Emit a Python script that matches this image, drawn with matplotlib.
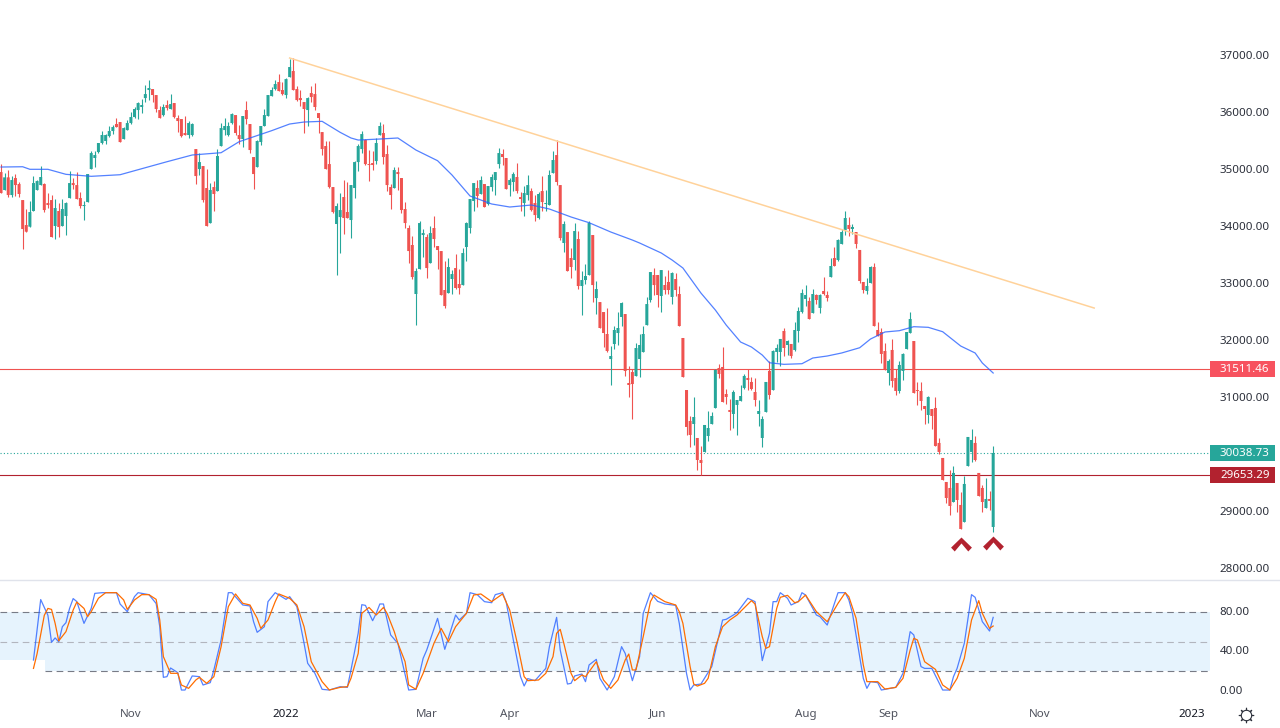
import matplotlib
matplotlib.use("Agg")
import matplotlib.pyplot as plt
from matplotlib.lines import Line2D
from matplotlib.patches import Rectangle
from matplotlib.path import Path

opens = [34966,34651,34873,34563,34861,34756,34475,34037,34008,34283,34651,34738,34756,34423,34475,34020,34283,34020,34195,34510,
34773,34738,34510,34370,34440,35019,35212,35317,35475,35510,35597,35685,35808,35843,35545,35702,35825,35930,36053,36106,
36263,36404,36421,36316,36053,35965,36141,36071,36176,35913,35895,35650,35615,35615,35369,35019,35071,34686,34072,34703,
34633,35422,35702,35615,35825,35965,35615,35545,36053,35808,35229,35054,35492,35773,35948,36298,36421,36544,36404,36316,
36631,36737,36421,36263,36193,36053,36351,36333,36000,35667,35422,35106,34703,34055,
34177,34528,34265,34125,34686,35141,35369,35527,35106,35124,35159,35615,35650,35282,34703,34686,34966,34861,34318,33985,
33687,32828,33266,33862,33827,33371,33985,33669,33581,32898,32845,33091,33283,33003,32985,33652,33985,34458,34686,34581,
34756,34405,34703,34826,35106,35282,35212,34738,34791,34879,34528,34423,34563,34633,34423,34160,34633,34405,34388,34949,
35264,34738,33722,33914,33459,33424,33792,32968,33073,33161,33862,32757,32687,32512,32127,31688,31951,32144,32425,32477,
31268,31460,31390,31688,31811,32284,32722,33161,33161,32793,
32986,33039,32776,33091,32828,32057,31145,30602,30549,30304,29918,30059,30339,30549,30830,31531,31549,31075,30795,30725,
30883,30953,31181,31356,31286,31110,30725,30304,30760,31479,31145,31812,31812,32180,31934,31952,31847,32180,32513,32741,
32706,32495,32811,32583,32881,32811,33126,33459,33424,33705,33950,34038,33968,33915,33600,33039,32881,33021,33302,32197,
32162,31829,31443,31847,31356,31128,31479,31864,32145,32004,31145,31128,30865,30707,30812,30830,30217,29954,29533,29428,
29182,29515,29130,28832,29813,30059,30217,29691,29428,29077,29235,28744]

highs = [35106,34943,35001,34896,34931,34791,34475,34318,34452,34896,34826,35071,34768,34592,34563,34493,34423,34493,34440,34984,
34861,34966,34616,34458,34931,35334,35334,35475,35685,35632,35773,35790,35913,35843,35755,35878,36018,36106,36193,36246,
36491,36579,36421,36316,36123,36158,36228,36333,36176,35965,35895,35948,35860,35825,35369,35299,35071,35019,34773,34808,
35369,35825,35913,35843,36000,35965,35790,35948,36211,35808,35229,35527,35773,36071,36316,36456,36579,36684,36544,36614,
36947,36964,36474,36404,36193,36281,36474,36526,36000,35667,35510,35510,34703,34423,
34592,34826,34791,34738,35159,35457,35685,35545,35352,35334,35562,35843,35808,35440,34756,35054,35054,34861,34440,34037,
33844,33283,34107,33967,33879,34020,34195,33669,33581,33406,33459,33248,33529,33266,33634,34090,34493,34773,34826,34896,
34756,34721,34931,34966,35387,35369,35212,34861,34966,35124,34616,34721,34914,34686,34563,34616,34896,34651,35001,35334,
35527,34738,34107,33914,33634,34072,33932,33231,33354,34107,33862,33056,32687,32512,32582,31916,32267,32512,32687,32477,
31566,31513,31969,32127,32267,32775,33213,33283,33161,33248,
33144,33249,33214,33196,32969,32057,31145,30690,31023,30304,30164,30532,30777,30760,31514,31601,31899,31163,30988,31145,
30970,31233,31426,31514,31373,31356,30970,30690,31286,31654,31847,31952,32040,32232,32022,31952,32337,32600,32916,32986,
32776,32916,32828,32828,33126,32881,33459,33652,33792,33968,34283,34178,34055,33915,33600,33039,33109,33319,33372,32337,
32232,31969,31689,32040,31514,31654,31794,32162,32513,32004,31286,31286,30865,31040,30812,31023,30304,29954,29533,29743,
29813,29515,29358,29638,30322,30462,30339,29691,29480,29603,29375,30164]

lows = [34598,34651,34534,34534,34545,34534,33616,33920,34008,34283,34651,34738,34265,34329,33827,33792,33827,34020,33862,34510,
34668,34493,34335,34125,34440,35019,35054,35299,35457,35457,35580,35632,35755,35492,35545,35702,35808,35913,35895,36000,
36193,36228,36193,36018,35913,35948,36053,36071,35913,35667,35580,35615,35562,35597,34756,34914,34440,34020,34072,34283,
34633,35422,35615,35597,35808,35615,35457,35404,35808,35299,34668,35054,35440,35773,35948,36298,36404,36386,36316,36263,
36631,36404,36211,36123,35650,35773,36193,36053,35650,35264,35019,34686,34248,33161,
33546,33879,34160,33809,34510,34984,35299,35089,34808,35001,35106,35615,35106,34633,34318,34686,34651,34248,33985,33371,
33091,32284,33266,33476,33108,33371,33652,33266,32810,32582,32845,32828,32915,32828,32985,33406,33897,34283,34353,34581,
34353,34388,34633,34563,35036,35089,34668,34546,34633,34598,34283,34195,34475,34283,34107,34142,34283,34283,34388,34949,
34738,33774,33564,33231,33108,33248,32915,32460,33003,33161,32687,32477,32232,31899,31811,31233,31864,31934,32267,31390,
31022,30637,31390,31373,31811,32284,32687,32810,32600,32512,
32828,32828,32653,32793,32267,31373,30357,30146,30181,29743,29655,30059,30252,30549,30830,31356,30935,30900,30444,30479,
30357,30953,31163,31145,31145,30865,30514,30146,30760,30988,31145,31636,31566,31741,31759,31706,31829,31987,32495,32618,
32390,32495,32653,32495,32811,32706,33126,33319,33407,33705,33863,33845,33880,33635,33021,32846,32828,33021,32267,32092,
31619,31496,31233,31198,31058,31093,31321,31864,32145,31093,30883,30795,30549,30567,30462,30164,30024,29568,29165,28954,
29182,29007,28709,28832,29813,29883,29901,29287,29007,29077,29042,28656]

closes = [34598,34873,34563,34826,34738,34581,33967,33920,34265,34773,34808,34879,34300,34388,33827,34335,34002,34318,34423,34773,
34738,34493,34370,34388,34931,35299,35264,35475,35615,35615,35685,35755,35755,35492,35737,35825,35930,36071,36176,36141,
36333,36439,36316,36071,35913,36106,36088,36158,35930,35860,35597,35615,35825,35808,34896,35141,34475,34020,34651,34581,
35247,35737,35773,35773,35983,35650,35545,35948,35895,35352,34931,35510,35773,35965,36316,36404,36509,36386,36333,36596,
36807,36404,36228,36228,36071,36263,36281,36106,35913,35369,35019,34703,34265,34370,
34300,34160,34160,34738,35141,35422,35632,35106,35089,35089,35475,35773,35229,34738,34563,35001,34931,34300,34072,33581,
33126,33231,34072,33897,33283,33897,33792,33599,32810,32617,33301,33178,32933,32933,33546,34072,34493,34773,34546,34826,
34353,34721,34879,34966,35299,35229,34668,34826,34931,34633,34493,34598,34738,34300,34212,34581,34440,34423,34914,35177,
34791,33809,34055,33231,33301,33932,32968,33073,33143,34072,32985,32915,32232,32144,31829,31741,32197,32232,32670,31478,
31233,31250,31881,31934,32127,32652,33213,32985,32810,33248,
32898,32898,33196,32898,32267,31373,30497,30357,30672,29918,29866,30532,30479,30690,31496,31426,30935,31023,30760,31110,
30970,31040,31391,31321,31163,30970,30777,30637,31286,31058,31829,31882,32040,31882,32004,31741,32197,32530,32846,32811,
32390,32828,32723,32811,32828,32758,33319,33319,33775,33915,34160,33968,34003,33705,33056,32898,32969,33302,32267,32092,
31777,31496,31654,31303,31128,31584,31777,32162,32390,31093,31128,30953,30812,31023,30690,30164,30059,29568,29252,29112,
29691,29217,28709,29498,30322,30269,29918,29287,29182,29235,29200,30041]

ma_bars = [0,6,8,13,18,25,33,40,46,53,61,66,75,80,84,89,94,97,99,105,110,115,121,125,130,136,141,147,152,158,163,169,175,177,183,186,189,194,198,201,205,208,211,213,217,222,225,229,233,238,241,245,249,253,257,261,266,270,272,275]
ma_values = [35054,35059,35014,35014,34926,34891,34919,35042,35147,35265,35305,35498,35691,35808,35843,35855,35662,35563,35527,35545,35563,35352,35165,34914,34546,34406,34353,34388,34318,34178,34078,33915,33774,33722,33547,33424,33284,32845,32547,32284,31986,31899,31758,31623,31595,31606,31706,31741,31794,31886,32039,32162,32185,32255,32244,32167,31916,31794,31618,31443]

trend_bars = [80, 303]
trend_values = [36965, 32582]

k_bars = [9,11,13,14,15,16,17,18,19,20,21,23,25,26,28,32,33,35,37,38,41,43,44,45,46,47,49,50,51,53,55,56,58,59,61,63,64,67,69,70,71,73,74,76,79,80,82,84,85,87,89,91,
94,96,97,99,100,101,103,104,105,106,108,110,113,115,117,118,121,123,126,127,129,130,132,134,136,137,139,140,142,144,145,146,148,151,152,154,155,157,158,159,161,162,163,165,166,168,170,172,173,175,177,178,180,182,184,187,
188,190,191,192,194,197,200,201,203,204,207,209,211,213,214,215,216,218,219,221,222,223,226,227,229,232,234,235,236,239,240,241,243,244,248,250,252,253,255,256,258,261,263,264,265,267,269,270,272,274,275]
k_values = [31.5,93,77,49.5,54,50,65.4,69.5,84,94,91,68.8,84,99.3,100,100,88.5,80.7,96,100,98,89,65.4,13.9,14.6,23.4,18.7,1,1,15.3,14.6,6.1,8.5,21.4,51.9,100,100,87.5,86.5,70.5,59.7,65.4,90.9,100,93.2,96,85.8,48.5,28.2,18,1.7,1,
4.4,3.7,21.4,58.7,87.8,87.1,71.5,79,88.5,88.5,57,48.5,1,1.7,33.2,41.7,73.9,42.4,77.3,72.2,79,100,98,90.9,89.8,98,100,90.9,51.9,14.6,5.1,12.6,10.5,23,45.1,74.9,41.7,7.1,7.8,15.3,17.3,9.5,26.5,32.2,12.9,1,14.6,45.1,38.3,10.5,34.9,79,100,91.2,88.5,87.1,
68.8,18,1,6.1,7.1,24.8,72.2,72.9,77.3,79.7,94.3,90.9,30.9,58.7,90.9,90.9,100,94.3,87.5,90.9,100,97.6,77.3,75.6,67.1,100,100,92.6,79,12.9,2.7,9.5,8.5,1,3.7,18,60.4,57,24.8,23,23,1,1,14.6,23,48.5,98,95.3,70.5,61,74.9]

d_bars = [9,10,12,13,14,15,16,18,20,21,23,24,25,27,29,32,34,35,37,39,41,43,44,45,47,49,50,52,54,55,57,59,61,63,65,67,69,71,72,74,76,77,80,82,84,86,89,91,
94,96,97,99,100,102,104,106,107,109,110,112,113,115,117,120,122,123,124,126,129,131,133,136,139,141,143,145,146,149,151,153,154,155,156,158,159,161,162,165,167,169,171,173,174,175,176,178,180,181,184,187,
188,189,191,192,193,195,196,198,200,202,204,208,209,211,212,213,215,216,218,220,221,223,226,229,232,234,235,237,239,240,243,245,248,250,252,253,254,256,259,261,263,265,267,269,271,272,274,275]
d_values = [23,38,77,84,83,68.8,51,60.4,82.4,90.5,84,75.6,80.7,94.3,100,100,92.6,83,92.6,98,98,93.2,72.2,35,18,18,6.1,2.7,11.2,13.9,7.8,14.6,45,85.8,98.7,89.2,87.5,73.9,63.7,72.2,90.9,98.7,94.3,87.5,65.4,29.8,9.5,1,
3.7,4.4,12.9,38.3,79,85,77.3,85,79,60.4,48.5,29.8,6.1,1.7,18,48.5,63.7,57,50.2,65.4,79,97.6,98.7,90.9,98.7,82.4,50.2,14.6,10.5,11.2,18,35,58.7,62.7,48.5,18,10.5,16.3,14.6,29.8,11.2,2.7,11.2,31.5,37.6,21.4,21.4,55.3,90.9,97.6,90.9,87.5,
80.7,68.8,24.8,7.1,5,7.8,12.9,45.1,65.4,72.2,77.3,91.9,88.5,55.3,43.4,45.1,84,95.3,97.3,89.8,90.9,97.6,80.7,70.5,89.2,100,95.9,73.9,26.5,9.5,9.5,2,3.7,12.9,41.7,53.6,51.9,29.8,22,6.1,1,12.9,33.2,72.2,91.9,79,63.7,66.1]

support_level = 29653.29
resistance_level = 31511.46
last_close = 30038.73
price_ticks = [28000, 29000, 31000, 32000, 33000, 34000, 35000, 36000, 37000]
osc_ticks = [0, 40, 80]
time_tick_bars = [36, 79, 118, 141, 182, 223, 246, 288, 330]
time_tick_labels = ["Nov", "2022", "Mar", "Apr", "Jun", "Aug", "Sep", "Nov", "2023"]
arrow_bars = [266, 275]
arrow_prices = [28445, 28455]

GREEN = "#26A69A"
RED = "#EF5350"
DARKRED = "#B2222F"
BLUE = "#2962FF"
ORANGE = "#FF6D00"
TEXT = "#2A2E39"
FONT = "Noto Sans"
FS = 8.3

W, H = 1280, 728
plt.rcParams["font.family"] = [FONT, "DejaVu Sans"]
fig = plt.figure(figsize=(W / 100, H / 100), dpi=100, facecolor="white")


def add_axes(x0, x1, ytop, ybot):
    return fig.add_axes([x0 / W, 1 - ybot / H, (x1 - x0) / W, (ybot - ytop) / H])


ax = add_axes(0, 1210, 0, 579)
osc = add_axes(0, 1210, 580, 703)
xlim = (-0.28, 335.1)

for a in (ax, osc):
    a.set_xlim(*xlim)
    a.set_facecolor("white")
    for s in a.spines.values():
        s.set_visible(False)
    a.yaxis.tick_right()
    a.tick_params(axis="both", length=0, labelsize=FS, labelcolor=TEXT, pad=7)

ax.set_ylim(27832, 37982)
ax.set_yticks(price_ticks)
ax.set_yticklabels([f"{p:.2f}" for p in price_ticks], va="center")
ax.set_xticks([])

bars = list(range(len(opens)))
colors = [GREEN if c >= o else RED for o, c in zip(opens, closes)]
ax.vlines(bars, lows, highs, colors=colors, lw=0.8, zorder=3)
body = ax.bar(bars, [abs(c - o) for o, c in zip(opens, closes)],
              bottom=[min(o, c) for o, c in zip(opens, closes)],
              width=0.83, color=colors, linewidth=0, zorder=4)
for patch in body:
    patch.set_snap(False)

ax.plot(ma_bars, ma_values, color=BLUE, lw=0.9, alpha=0.8, zorder=5)
ax.plot(trend_bars, trend_values, color="#FFD29A", lw=1.1, zorder=5)
ax.axhline(resistance_level, color=RED, lw=0.8, zorder=2)
ax.axhline(support_level, color=DARKRED, lw=0.8, zorder=2)
ax.axhline(last_close, color=GREEN, lw=0.8, ls=(0, (1, 2)), zorder=2)

chevron = Path([(-1, -0.3), (0, 0.67), (1, -0.3), (0.65, -0.67), (0, 0.1), (-0.65, -0.67), (-1, -0.3)],
               closed=True)
ax.plot(arrow_bars, arrow_prices, ls="none", marker=chevron, ms=15, color="#B2222F", mew=0, zorder=6)

trans = ax.get_yaxis_transform()
for val, col in ((resistance_level, "#F7525F"), (last_close, GREEN), (support_level, DARKRED)):
    ax.add_patch(Rectangle((1.0, val - 146), 65 / 1210, 292, transform=trans, facecolor=col,
                           edgecolor="none", clip_on=False, zorder=7))
    ax.text(1 + 10 / 1210, val, f"{val:.2f}", transform=trans, color="white", fontsize=FS,
            fontweight="bold", va="center", ha="left", clip_on=False, zorder=8)

osc.set_ylim(-12.2, 112.9)
osc.set_yticks(osc_ticks)
osc.set_yticklabels([f"{v:.2f}" for v in osc_ticks], va="center")
osc.set_xticks(time_tick_bars)
osc.set_xticklabels(time_tick_labels, color="#50535E")
for lbl, txt in zip(osc.get_xticklabels(), time_tick_labels):
    if txt.isdigit():
        lbl.set_color("#131722")
        lbl.set_fontweight("medium")
osc.tick_params(axis="x", pad=4)

BREAK = 45 / 1210
osc.axhspan(31.5, 80, xmin=0, xmax=BREAK, color="#E6F3FD", lw=0, zorder=1)
osc.axhspan(20, 80, xmin=BREAK, xmax=1, color="#E6F3FD", lw=0, zorder=1)
osc.axhline(80, color="#787B86", lw=0.8, ls=(0, (6, 4)), zorder=2)
osc.axhline(50, color="#B2B5BE", lw=0.8, ls=(0, (6, 4)), zorder=2)
osc.axhline(20, xmin=BREAK, color="#787B86", lw=0.8, ls=(0, (6, 4)), zorder=2)
osc.plot(k_bars, k_values, color=BLUE, lw=0.9, alpha=0.8, zorder=3)
osc.plot(d_bars, d_values, color=ORANGE, lw=0.9, zorder=4)

fig.add_artist(Line2D([0, 1], [1 - 579.5 / H] * 2, transform=fig.transFigure, color="#E0E3EB", lw=1))
gx, gy = 1245.5 / W, 1 - 715 / H
fig.add_artist(Line2D([gx], [gy], transform=fig.transFigure, marker=(8, 2, 0), ms=11, mew=0.8, color=TEXT, ls="none"))
fig.add_artist(Line2D([gx], [gy], transform=fig.transFigure, marker="o", ms=7.5, mew=0.8, mfc="white", mec=TEXT, ls="none"))

fig.savefig("out.png", dpi=100)
